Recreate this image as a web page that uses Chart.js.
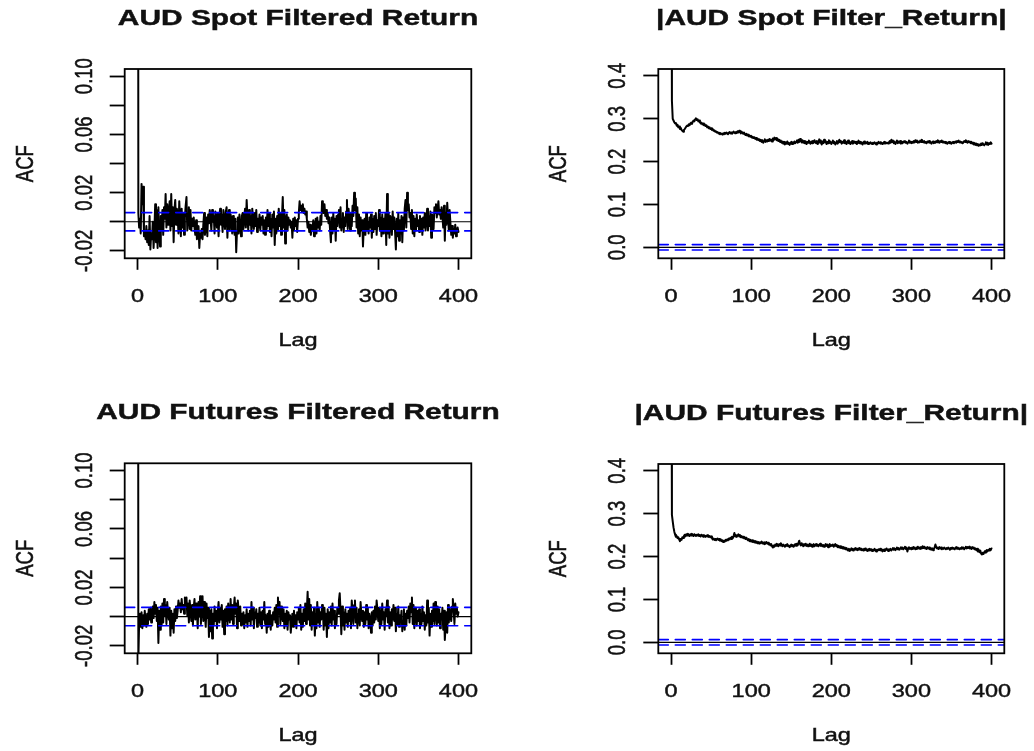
<!DOCTYPE html>
<html>
<head>
<meta charset="utf-8">
<title>AUD filtered return ACF</title>
<script src="https://cdn.jsdelivr.net/npm/chart.js@4.4.1/dist/chart.umd.min.js"></script>
<style>
  html, body { margin: 0; padding: 0; background: #fff; }
  #page { position: relative; width: 1034px; height: 751px; overflow: hidden; }
  canvas { position: absolute; }
</style>
</head>
<body>
<div id="page">
  <canvas id="spotRet" width="517" height="376" style="left:0;top:0"></canvas>
  <canvas id="spotAbs" width="517" height="376" style="left:517px;top:0"></canvas>
  <canvas id="futRet" width="517" height="376" style="left:0;top:375px"></canvas>
  <canvas id="futAbs" width="517" height="376" style="left:517px;top:375px"></canvas>
</div>
<script>
// ACF values by lag (0..400), stored in thousandths
const spotRetAcf = [1000,
  6,-4,2,-8,26,12,24,-10,-6,-12,
  -3,-14,-6,-16,4,-19,-8,-12,0,-18,
  -6,12,-14,8,-18,10,-8,-17,4,-6,
  8,-9,10,2,19,-4,12,-2,6,14,
  -6,19,-3,10,-14,8,15,-2,9,4,
  -8,14,2,-10,9,-4,6,-9,3,11,
  17,-6,4,10,-5,8,-6,2,-3,3,
  -4,-9,1,-12,-6,-3,-18,-8,-11,-5,
  -12,-2,6,-9,-4,3,-10,5,-1,8,
  2,-6,8,0,4,-8,7,3,-4,6,
  -10,4,9,-2,5,-7,8,1,-5,7,
  10,-11,3,8,-6,5,2,-8,4,-3,
  -9,2,-21,-6,3,-8,5,-2,-10,4,
  6,-5,2,9,-4,15,3,-6,8,-2,
  4,-8,9,1,-5,6,-3,8,-7,2,
  -4,5,-6,3,-2,4,-8,1,-9,3,
  -5,8,-3,6,-7,2,-10,5,-4,7,
  -16,2,-8,4,-6,9,-3,6,-9,3,
  17,-4,8,-15,2,5,-6,3,-2,1,
  -4,0,-11,2,-6,3,-3,1,-7,2,
  6,14,8,11,7,12,6,9,5,7,
  2,-4,0,-7,-2,-9,-3,-6,1,-10,
  -5,2,-8,3,-4,0,-6,4,-2,14,
  10,6,12,4,8,2,6,-1,3,-6,
  -14,3,-8,6,-5,2,-13,4,-3,5,
  8,-4,10,-6,2,6,-7,3,-3,7,
  15,-5,9,2,-6,6,-3,11,4,20,
  8,16,-4,10,-8,5,-10,3,-6,1,
  -17,-4,2,-9,6,-6,0,-8,3,-4,
  5,-11,2,-7,4,-5,6,-9,1,-3,
  8,-6,3,-10,5,-8,2,-4,6,-16,
  19,-8,6,-11,4,2,-9,7,-5,3,
  -7,-19,2,-10,6,-13,1,-8,4,-14,
  3,-6,9,15,-4,20,8,12,3,6,
  -5,8,-8,4,-10,2,-6,5,-3,1,
  -7,4,-5,2,-9,3,-4,6,-6,2,
  9,-6,4,-3,7,-11,5,2,-5,10,
  6,12,3,9,14,5,8,2,10,4,
  -4,11,-13,6,-2,13,3,-6,8,-1,
  -9,-3,-11,-5,-8,-2,-10,-6,-4,-7];

const spotAbsAcf = [1000,
  342,300,296,292,289,290,284,286,280,282,
  276,279,274,272,270,274,276,279,282,284,
  283,287,285,289,291,288,293,296,294,299,
  301,297,299,294,296,292,289,291,287,289,
  285,287,283,285,280,282,278,280,276,278,
  274,276,272,273,270,271,268,269,266,267,
  264,266,265,263,266,264,267,265,268,266,
  264,267,269,266,268,265,267,270,268,266,
  269,267,271,268,272,269,266,270,267,265,
  268,264,262,265,261,263,259,261,258,260,
  256,258,255,257,253,255,251,254,250,252,
  248,251,246,250,244,248,252,246,250,247,
  251,248,253,249,251,247,254,250,256,252,
  255,250,253,248,251,246,249,244,247,242,
  246,240,245,242,247,241,244,239,243,246,
  241,245,242,247,243,246,249,244,251,246,
  253,248,245,250,244,248,243,247,241,246,
  244,249,245,242,247,243,248,244,250,246,
  243,248,241,246,252,244,249,240,247,243,
  251,245,248,241,246,243,250,244,247,241,
  245,249,243,246,240,244,248,242,246,251,
  245,248,242,246,244,250,243,247,241,245,
  249,243,246,241,244,248,242,245,247,243,
  246,241,244,249,243,246,242,245,240,244,
  247,242,245,243,246,241,244,242,245,243,
  241,244,242,245,243,240,244,242,246,243,
  245,242,244,241,243,246,242,245,243,244,
  242,245,248,244,251,246,249,243,247,241,
  245,249,243,247,244,248,242,246,243,247,
  245,248,244,246,242,245,249,244,247,243,
  246,244,248,245,250,246,249,244,247,245,
  249,246,251,247,245,248,244,246,243,247,
  245,248,244,246,242,245,247,243,246,244,
  248,245,250,247,244,248,246,249,245,247,
  244,246,243,245,242,244,246,243,245,242,
  244,246,243,245,247,244,248,246,249,245,
  247,244,246,243,245,248,246,250,247,244,
  248,245,247,243,246,242,244,240,243,239,
  242,238,241,237,240,238,242,239,243,240,
  238,241,245,240,244,239,243,241,245,242];

const futRetAcf = [1000,
  -30,-4,2,-7,3,-8,1,-6,4,-3,
  -7,2,-5,5,-2,6,-4,3,7,-1,
  10,2,8,-3,6,-18,4,-9,7,-6,
  9,-4,12,1,8,-5,10,3,-2,6,
  -13,4,-8,2,-11,5,-3,7,-1,4,
  11,6,9,3,12,5,8,2,13,7,
  13,1,9,-4,11,4,-3,8,-6,6,
  12,-2,9,3,-8,10,0,14,-5,8,
  14,-3,10,2,-7,9,-1,6,-14,4,
  -10,5,-15,2,-6,7,-3,4,-8,3,
  10,-4,6,-2,8,-7,4,-12,5,-3,
  7,-6,9,1,-4,12,-2,8,-5,6,
  13,2,9,-8,11,4,-3,7,-6,2,
  -5,3,-8,1,-4,5,-7,2,-3,4,
  -6,10,-2,6,-8,3,-1,5,-7,2,
  -4,6,-6,3,-8,4,-2,10,-5,1,
  -11,2,-7,4,-3,-9,1,-6,3,-2,
  6,-4,8,-7,13,2,10,-5,7,1,
  -3,5,-8,2,-6,4,-9,3,-2,1,
  -11,-3,2,-7,4,-5,1,-8,3,-2,
  6,-4,8,-9,2,-7,5,-3,9,-5,
  4,17,-2,12,-6,8,-9,3,-5,6,
  -13,2,-8,10,-4,6,-7,3,-2,8,
  4,-9,6,-6,2,-14,5,-8,3,-4,
  7,-6,9,-2,4,-8,1,-5,6,2,
  11,16,4,-12,7,-6,3,-9,5,-4,
  2,-7,4,-3,6,-8,11,3,-5,8,
  11,-4,6,-8,2,5,-6,10,1,-3,
  4,-7,3,-5,8,-2,6,-8,2,-1,
  -11,3,-6,4,-4,7,-2,11,5,-3,
  6,-8,4,-5,9,-2,3,-9,5,1,
  11,-4,7,-8,3,-6,5,-2,8,-3,
  6,-10,2,-5,7,-7,1,-4,4,-10,
  -3,5,-9,2,-6,4,-1,7,-4,9,
  3,13,-5,8,-8,6,2,-6,4,-3,
  5,-8,2,-5,7,-3,3,-9,1,-6,
  11,-4,6,-13,2,-7,4,-3,9,-5,
  10,3,-6,7,-4,5,-8,2,-2,6,
  -9,4,-16,-6,3,-11,8,-4,6,1,
  -3,7,12,4,-5,9,2,6,0,3];

const futAbsAcf = [1000,
  297,282,268,258,251,246,248,243,245,240,
  236,241,239,245,243,248,251,247,252,249,
  253,250,248,252,249,253,251,248,252,250,
  248,251,249,252,248,250,247,251,249,246,
  250,248,246,249,247,250,246,248,245,247,
  243,240,242,239,241,238,240,242,239,241,
  237,240,236,238,234,237,235,239,237,240,
  238,242,240,244,241,246,243,248,255,247,
  250,246,249,252,247,250,245,248,244,246,
  243,245,241,244,240,238,241,236,239,235,
  238,234,237,233,236,232,235,231,234,230,
  233,231,235,232,230,233,229,232,234,230,
  232,228,230,226,229,224,221,226,223,228,
  225,230,227,224,229,226,231,227,224,228,
  226,223,227,225,229,224,226,222,225,228,
  224,227,223,226,229,225,230,226,232,237,
  229,226,231,227,224,229,226,230,225,228,
  224,227,230,225,228,223,227,229,224,226,
  229,225,228,224,227,230,225,228,224,227,
  223,226,229,225,228,222,226,229,224,227,
  225,228,223,226,229,224,227,222,225,221,
  224,220,223,219,222,218,221,217,220,216,
  214,218,213,216,219,215,218,214,217,220,
  216,219,215,218,220,216,219,215,217,214,
  218,215,219,216,213,217,214,218,215,217,
  213,216,214,218,215,212,216,214,217,215,
  218,214,217,212,216,213,217,215,219,216,
  213,217,215,218,214,217,220,216,219,215,
  218,221,217,220,216,219,222,218,221,217,
  220,223,218,221,212,219,222,218,220,217,
  221,218,222,219,217,221,218,223,219,221,
  218,222,219,224,220,223,219,221,218,222,
  219,221,217,220,216,219,215,218,221,228,
  222,219,221,218,222,219,221,217,220,218,
  221,219,217,220,218,221,219,216,220,218,
  221,218,220,217,219,222,218,221,219,217,
  220,218,222,219,221,217,220,223,219,222,
  220,223,219,221,218,222,219,221,217,219,
  215,218,212,216,210,214,207,205,209,206,
  210,213,209,215,212,216,214,218,215,219];

// axis ticks
const lagTicks = [0, 100, 200, 300, 400];
const retTicks = [-0.02, 0, 0.02, 0.04, 0.06, 0.08, 0.10];
const retTickLabels = ['-0.02', '', '0.02', '', '0.06', '', '0.10'];
const absTicks = [0, 0.1, 0.2, 0.3, 0.4];
const absTickLabels = ['0.0', '0.1', '0.2', '0.3', '0.4'];

// 95% band, 2/sqrt(n)
const CONF_BOUND = 0.0063;
const LAG_MIN = -16;
const LAG_MAX = 416;

const TEXT_FONT = '18.5px "Liberation Sans", Arial, sans-serif';
const TITLE_FONT = 'bold 21.5px "Liberation Sans", Arial, sans-serif';
const TEXT_STRETCH = 1.27;
const TITLE_STRETCH = 1.39;
const TEXT_COLOR = '#111';

const panels = [
    { id: 'spotRet', title: 'AUD Spot Filtered Return', values: spotRetAcf,
      yMin: -0.0251, yMax: 0.1049, ticks: retTicks, labels: retTickLabels,
      area: { left: 124.7, top: 69, right: 471.3, bottom: 258.3 } },
    { id: 'spotAbs', title: '|AUD Spot Filter_Return|', values: spotAbsAcf,
      yMin: -0.0257, yMax: 0.4162, ticks: absTicks, labels: absTickLabels,
      area: { left: 141.3, top: 69, right: 487.3, bottom: 258.3 } },
    { id: 'futRet', title: 'AUD Futures Filtered Return', values: futRetAcf,
      yMin: -0.0251, yMax: 0.1049, ticks: retTicks, labels: retTickLabels,
      area: { left: 124.7, top: 88.3, right: 471.3, bottom: 278.3 } },
    { id: 'futAbs', title: '|AUD Futures Filter_Return|', values: futAbsAcf,
      yMin: -0.0255, yMax: 0.4158, ticks: absTicks, labels: absTickLabels,
      area: { left: 141.3, top: 89, right: 487.3, bottom: 278.3 } }
];

// text drawn with a horizontal stretch, optionally turned to read bottom-to-top
const drawText = (ctx, str, x, y, font, stretch, vertical) => {
    ctx.save();
    ctx.translate(x, y);
    ctx.scale(stretch, 1);
    if (vertical) ctx.rotate(-Math.PI / 2);
    ctx.font = font;
    ctx.fillStyle = TEXT_COLOR;
    ctx.strokeStyle = TEXT_COLOR;
    ctx.lineWidth = 0.45;
    ctx.textAlign = 'center';
    ctx.textBaseline = 'alphabetic';
    ctx.fillText(str, 0, 0);
    ctx.strokeText(str, 0, 0);
    ctx.restore();
};

// box, title, tick labels and axis names in base-graphics style
const rFrame = {
    id: 'rFrame',
    afterDraw: (chart, args, opts) => {
        const { ctx, chartArea: a, scales: { x, y } } = chart;
        ctx.save();
        ctx.strokeStyle = '#000';
        ctx.lineWidth = 1.8;
        ctx.strokeRect(a.left, a.top, a.right - a.left, a.bottom - a.top);
        ctx.restore();

        const midX = (a.left + a.right) / 2;
        const midY = (a.top + a.bottom) / 2;
        drawText(ctx, opts.title, midX, a.top - 44, TITLE_FONT, TITLE_STRETCH, false);

        lagTicks.forEach(v => {
            drawText(ctx, String(v), x.getPixelForValue(v), a.bottom + 43.4, TEXT_FONT, TEXT_STRETCH, false);
        });
        drawText(ctx, 'Lag', midX, a.bottom + 87.5, TEXT_FONT, TEXT_STRETCH, false);

        opts.ticks.forEach((v, i) => {
            if (!opts.labels[i]) return;
            drawText(ctx, opts.labels[i], a.left - 33, y.getPixelForValue(v), TEXT_FONT, TEXT_STRETCH, true);
        });
        drawText(ctx, 'ACF', a.left - 92, midY, TEXT_FONT, TEXT_STRETCH, true);
    }
};

const buildChart = (panel) => {
    const canvas = document.getElementById(panel.id);
    const area = panel.area;
    const acf = panel.values.map((v, lag) => ({ x: lag, y: v / 1000 }));
    const across = (level) => [{ x: LAG_MIN, y: level }, { x: LAG_MAX, y: level }];

    return new Chart(canvas, {
        type: 'line',
        data: {
            datasets: [
                { data: acf, borderColor: '#000', borderWidth: 2, order: 3 },
                { data: across(0), borderColor: '#000', borderWidth: 1.2, order: 2 },
                { data: across(CONF_BOUND), borderColor: '#0000ff', borderWidth: 1.6, borderDash: [10, 7], order: 1 },
                { data: across(-CONF_BOUND), borderColor: '#0000ff', borderWidth: 1.6, borderDash: [10, 7], order: 1 }
            ]
        },
        plugins: [rFrame],
        options: {
            responsive: false,
            animation: false,
            events: [],
            layout: {
                padding: { left: 0, top: area.top, right: canvas.width - area.right, bottom: 0 }
            },
            datasets: { line: { clip: 0 } },
            elements: {
                point: { radius: 0 },
                line: { tension: 0, borderJoinStyle: 'round', borderCapStyle: 'round' }
            },
            plugins: {
                legend: { display: false },
                tooltip: { enabled: false },
                rFrame: { title: panel.title, ticks: panel.ticks, labels: panel.labels }
            },
            scales: {
                x: {
                    type: 'linear',
                    min: LAG_MIN,
                    max: LAG_MAX,
                    afterBuildTicks: axis => { axis.ticks = lagTicks.map(value => ({ value })); },
                    afterFit: axis => { axis.height = canvas.height - area.bottom; },
                    ticks: { display: false },
                    border: { display: false },
                    grid: { drawOnChartArea: false, drawTicks: true, tickLength: 11.5, tickWidth: 1.8, tickColor: '#000' }
                },
                y: {
                    type: 'linear',
                    min: panel.yMin,
                    max: panel.yMax,
                    afterBuildTicks: axis => { axis.ticks = panel.ticks.map(value => ({ value })); },
                    afterFit: axis => { axis.width = area.left; },
                    ticks: { display: false },
                    border: { display: false },
                    grid: { drawOnChartArea: false, drawTicks: true, tickLength: 15, tickWidth: 1.8, tickColor: '#000' }
                }
            }
        }
    });
};

document.addEventListener('DOMContentLoaded', () => {
    panels.forEach(buildChart);
});
</script>
</body>
</html>
